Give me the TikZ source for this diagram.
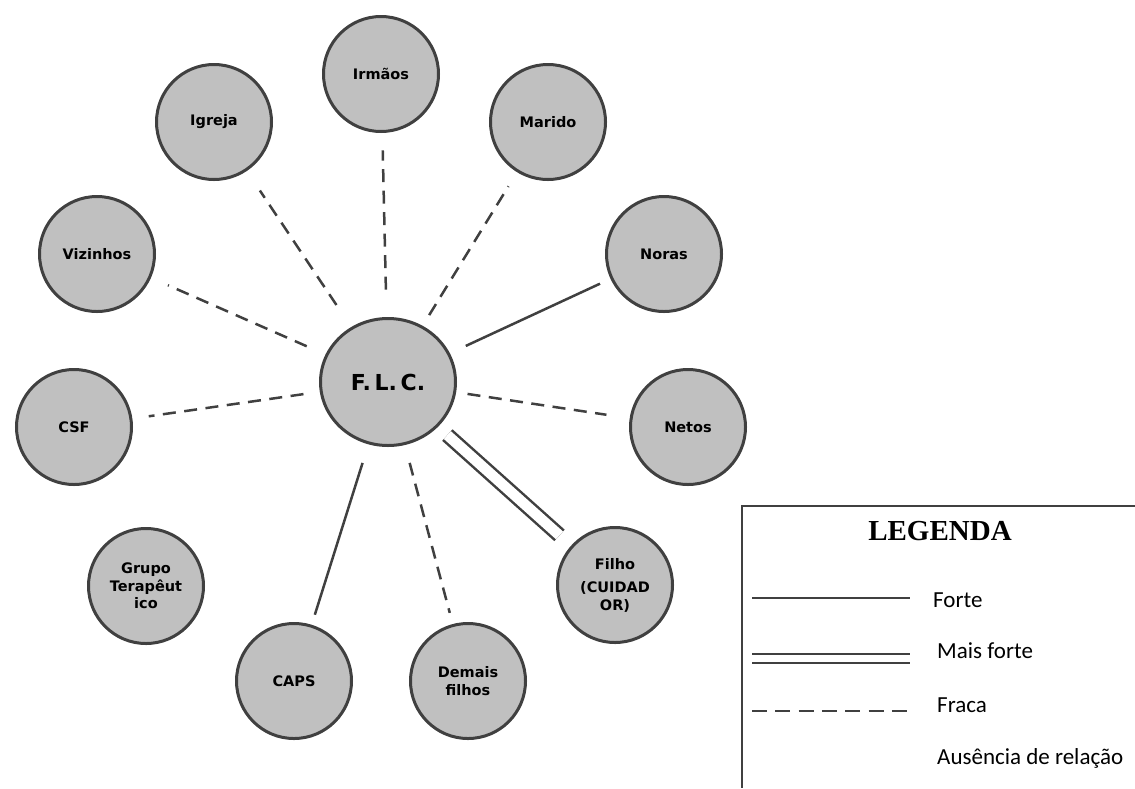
\documentclass[tikz,border=0pt]{standalone}
\usepackage{fontspec}
\setmainfont{DejaVu Sans}
\newfontfamily\legfont{Carlito}
\newfontfamily\titfont{Liberation Serif}
\usetikzlibrary{shapes.geometric}
\definecolor{traco}{HTML}{404040}
\definecolor{cinza}{HTML}{C0C0C0}
\tikzset{%
	membro/.style    = {draw=traco, fill=cinza, circle, line width=3pt, minimum size=115pt, inner sep=0pt, outer sep=0pt, align=center, font=\bfseries\fontsize{14.5}{17.5}\selectfont}, % Rede
	centro/.style    = {draw=traco, fill=cinza, ellipse, line width=3pt, minimum width=135pt, minimum height=127pt, inner sep=0pt, outer sep=0pt, font=\bfseries\fontsize{22}{26}\selectfont}, % Pessoa
	forte/.style     = {draw=traco, line width=2.5pt},
	maisforte/.style = {draw=traco, line width=2.5pt, double=white, double distance=10.5pt},
	fraca/.style     = {draw=traco, line width=2.5pt, dash pattern=on 13pt off 8.5pt},
	moldura/.style   = {draw=traco, line width=2pt},
	legtexto/.style  = {anchor=base west, inner sep=0pt, font=\legfont\fontsize{23}{27}\selectfont},
	legtitulo/.style = {anchor=base, inner sep=0pt, font=\titfont\bfseries\fontsize{29}{33}\selectfont},
}

\begin{document}
\begin{tikzpicture}[x=1pt,y=-1pt]
	\useasboundingbox (0,0) rectangle (1135,788);
	\node [centro] (flc) at (388,382) {F.\,L.\,C.};
	\node [membro] (irmaos) at (381,74) {Irmãos};
	\node [membro] (igreja) at (214,122) {Igreja};
	\node [membro] (marido) at (548,122) {Marido};
	\node [membro] (vizinhos) at (97,254) {Vizinhos};
	\node [membro] (noras) at (664,254) {Noras};
	\node [membro] (csf) at (74,427) {CSF};
	\node [membro] (netos) at (688,427) {Netos};
	\node [membro] (grupo) at (146,586) {Grupo\\Terapêut\\ico};
	\node [membro] (filho) at (615,585) {Filho\\[6pt](CUIDAD\\OR)};
	\node [membro] (caps) at (294,681) {CAPS};
	\node [membro] (demais) at (468,681) {Demais\\filhos};
	
	\draw[fraca, shorten <=29pt, shorten >=19pt] (flc) -- (irmaos);
	\draw[fraca, shorten <=28pt, shorten >=25pt] (flc) -- (igreja);
	\draw[fraca, shorten <=14pt, shorten >=18pt] (flc) -- (marido);
	\draw[fraca, shorten <=22pt, shorten >=20pt] (flc) -- (vizinhos);
	\draw[forte, shorten <=19pt, shorten >=13pt] (flc) -- (noras);
	\draw[fraca, shorten <=18pt, shorten >=18pt] (flc) -- (csf);
	\draw[fraca, shorten <=13pt, shorten >=25pt] (flc) -- (netos);
	\draw[maisforte, shorten <=14pt, shorten >=17pt] (flc) -- (filho);
	\draw[forte, shorten <=21pt, shorten >=12pt] (flc) -- (caps);
	\draw[fraca, shorten <=20pt, shorten >=13pt] (flc) -- (demais);
	
	% legenda
	\draw[moldura] (1135,506) -- (742,506) -- (742,788);
	\node [legtitulo] (legenda) at (940,540) {LEGENDA};
	\node [legtexto] (tforte) at (933,607) {Forte};
	\node [legtexto] (tmais) at (937,658) {Mais forte};
	\node [legtexto] (tfraca) at (937,712) {Fraca};
	\node [legtexto] (tausencia) at (937,764) {Ausência de relação};
	\coordinate (forteA) at (752,598);
	\coordinate (forteB) at (910,598);
	\coordinate (maisA) at (752,658.5);
	\coordinate (maisB) at (910,658.5);
	\coordinate (fracaA) at (752,711);
	\coordinate (fracaB) at (910,711);
	\draw[forte] (forteA) -- (forteB);
	\draw[maisforte, double distance=6.5pt] (maisA) -- (maisB);
	\draw[fraca, dash pattern=on 15pt off 8.3pt] (fracaA) -- (fracaB);
\end{tikzpicture}
\end{document}
